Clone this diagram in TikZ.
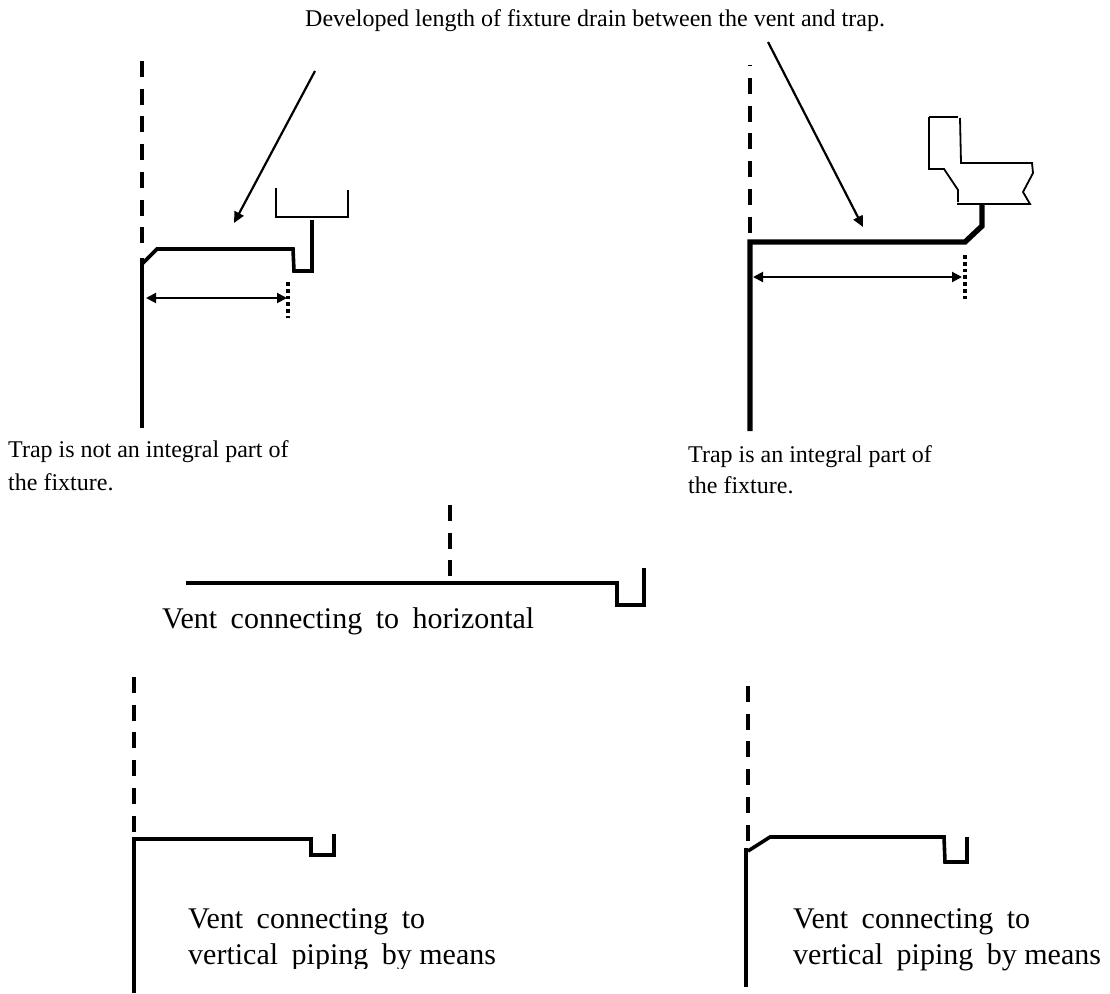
\documentclass[tikz,border=0pt]{standalone}
\usepackage{fontspec}
\setmainfont{Liberation Serif}
\usetikzlibrary{arrows.meta}
\newcommand{\bigtextfont}{\fontsize{30}{34}\selectfont\spaceskip 13.5pt\relax}
\tikzset{
  pipe/.style={line width=3.6pt,line join=miter},
  heavypipe/.style={line width=5.4pt,line join=miter},
  ventline/.style={line width=4pt,dash pattern=on 16pt off 11.7pt},
  fixture/.style={line width=1.8pt},
  pointer/.style={line width=2.2pt,-{Triangle[length=11pt,width=10pt]}},
  span/.style={line width=2pt,{Triangle[length=10pt,width=10pt]}-{Triangle[length=10pt,width=10pt]}},
  dots/.style={line width=4pt,dash pattern=on 3.7pt off 3.1pt},
  small/.style={inner sep=0pt,anchor=base west,font=\fontsize{24}{28}\selectfont},
  big/.style={inner sep=0pt,anchor=base west,font=\bigtextfont},
}
\begin{document}
\begin{tikzpicture}[x=1pt,y=-1pt]
\useasboundingbox (0,0) rectangle (1110,993);
% top caption
\node[small] (cap) at (305,26) {Developed length of fixture drain between the vent and trap.};
% upper left
\coordinate (a1) at (315,71); \coordinate (a2) at (234,223);
\coordinate (d1) at (146,298); \coordinate (d2) at (287,298);
\draw[ventline] (142,61) -- (142,244);
\draw[pipe] (142,258) -- (142,428);
\draw[pipe] (142,264) -- (157,249) -- (293,249) -- (294,271) -- (312,271) -- (312,220);
\draw[fixture] (276,188) -- (276,217) -- (348,217) -- (348,190);
\draw[pointer] (a1) -- (a2);
\draw[span] (d1) -- (d2);
\draw[dots] (288,282) -- (288,318);
\node[small] (t1) at (8,457) {Trap is not an integral part of};
\node[small] (t2) at (8,490) {the fixture.};
% upper right
\coordinate (b1) at (768,42); \coordinate (b2) at (863,227);
\coordinate (e1) at (753,277); \coordinate (e2) at (962,277);
\draw[line width=3.4pt] (750,64.5) -- (750,66);
\draw[ventline] (750,78) -- (750,235);
\draw[heavypipe] (750,431) -- (750,242) -- (965,242) -- (982,226) -- (982,203);
\draw[fixture] (929,117) -- (958,117);
\draw[fixture] (960,118) -- (961,163) -- (1032,163) -- (1033,173) -- (1023,192) -- (1030,204) -- (957,204);
\draw[fixture] (958,202) -- (958,190) -- (944,169) -- (929,169) -- (929,117);
\draw[pointer] (b1) -- (b2);
\draw[span] (e1) -- (e2);
\draw[dots] (965,255) -- (965,299);
\node[small] (t3) at (688,462) {Trap is an integral part of};
\node[small] (t4) at (688,493) {the fixture.};
% middle
\draw[ventline] (450,505) -- (450,578);
\draw[pipe] (186,583) -- (617,583) -- (617,605) -- (644,605) -- (644,568);
\node[big] (t5) at (162,628) {Vent connecting to horizontal};
% lower left
\draw[ventline] (134,677) -- (134,833);
\draw[pipe] (134,993) -- (134,839) -- (311,839) -- (311,855) -- (334,855) -- (334,834);
\node[big] (t6) at (188,928) {Vent connecting to};
\begin{scope}
\clip (180,935) rectangle (520,968);
\node[big] (t7) at (188,964) {vertical piping by\kern-6pt{} means};
\end{scope}
% lower right
\draw[ventline] (748,686) -- (748,843);
\draw[pipe] (746,848) -- (746,987);
\draw[pipe] (748,851) -- (770,837) -- (944,837) -- (945,862) -- (967,862) -- (967,837);
\node[big] (t8) at (793,928) {Vent connecting to};
\node[big] (t9) at (793,964) {vertical piping by\kern-6pt{} means};
\end{tikzpicture}
\end{document}
